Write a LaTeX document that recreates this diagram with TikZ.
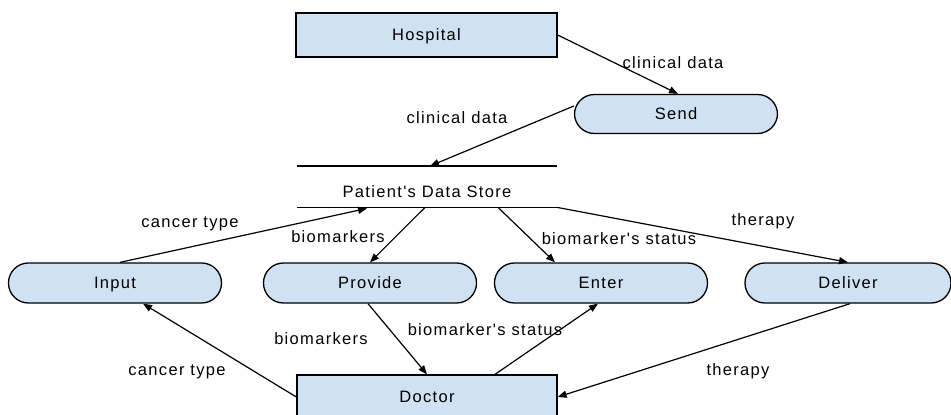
\documentclass[tikz,border=0pt]{standalone}
\usepackage{fontspec}
\setmainfont[LetterSpace=8, Ligatures=TeXOff]{Liberation Sans}
\usetikzlibrary{arrows.meta}
\definecolor{boxblue}{RGB}{207,225,242}
\begin{document}
\begin{tikzpicture}[x=1pt,y=-1pt,
  txt/.style={font=\fontsize{16.5}{19}\selectfont, text height=11.8pt, text depth=0pt},
  box/.style={txt, draw, fill=boxblue, line width=1.3pt, inner sep=0pt,
              minimum width=261pt, minimum height=44pt},
  pill/.style={txt, draw, fill=boxblue, line width=1.3pt, inner sep=0pt,
               rounded corners=19.9pt, minimum width=213pt, minimum height=40pt},
  flow/.style={-{Triangle[length=9pt,width=7pt]}, line width=1.2pt},
  lbl/.style={txt, inner sep=0pt}]
\useasboundingbox (0,0) rectangle (951,415);
\clip (0,0) rectangle (951,415);
\fill[white] (0,0) rectangle (951,415);

% processes and external entities
\node[box]  (hospital) at (426.5,35)  {Hospital};
\node[pill, minimum width=203pt, minimum height=39pt] (send) at (676,114) {Send};
\node[pill] (input)   at (115,283) {Input};
\node[pill] (provide) at (370,283) {Provide};
\node[pill] (enter)   at (601,283) {Enter};
\node[pill, minimum width=206pt] (deliver) at (848,283) {Deliver};
\node[box, minimum width=260pt] (doctor) at (427,397) {Doctor};

% data store: text between two horizontal lines
\node[txt, inner sep=0pt, text height=21pt, minimum width=260pt, minimum height=41pt]
  (store) at (427,186.7) {Patient's Data Store};
\draw[line width=1.2pt] (store.north west) -- (store.north east);
\draw[line width=1.2pt] (store.south west) -- (store.south east);

% data flows
\draw[flow] (hospital.east) -- ([xshift=2pt]send.north);
\draw[flow] ([yshift=8pt]send.west) -- ([xshift=3pt]store.north);
\draw[flow] ([xshift=5pt]input.north) -- ([xshift=-60pt,yshift=-1pt]store.south);
\draw[flow] ([xshift=-2pt]store.south) -- (provide.north);
\draw[flow] ([xshift=71pt]store.south) -- ([xshift=-46pt]enter.north);
\draw[flow] (store.south east) -- (deliver.north);
\draw[flow] (doctor.west) -- ([xshift=28pt]input.south);
\draw[flow] ([xshift=-2pt]provide.south) -- (doctor.north);
\draw[flow] ([xshift=68pt]doctor.north) -- ([xshift=-3pt]enter.south);
\draw[flow] ([xshift=2pt]deliver.south) -- (doctor.east);

% flow labels
\node[lbl] (l1)  at (673,63)  {clinical data};
\node[lbl] (l2)  at (457,118) {clinical data};
\node[lbl] (l3)  at (190,222) {cancer type};
\node[lbl] (l4)  at (338,237) {biomarkers};
\node[lbl] (l5)  at (619,239) {biomarker's status};
\node[lbl] (l6)  at (763,220) {therapy};
\node[lbl] (l7)  at (321,339) {biomarkers};
\node[lbl] (l8)  at (177,370) {cancer type};
\node[lbl] (l9)  at (485,330) {biomarker's status};
\node[lbl] (l10) at (738,370) {therapy};
\end{tikzpicture}
\end{document}
